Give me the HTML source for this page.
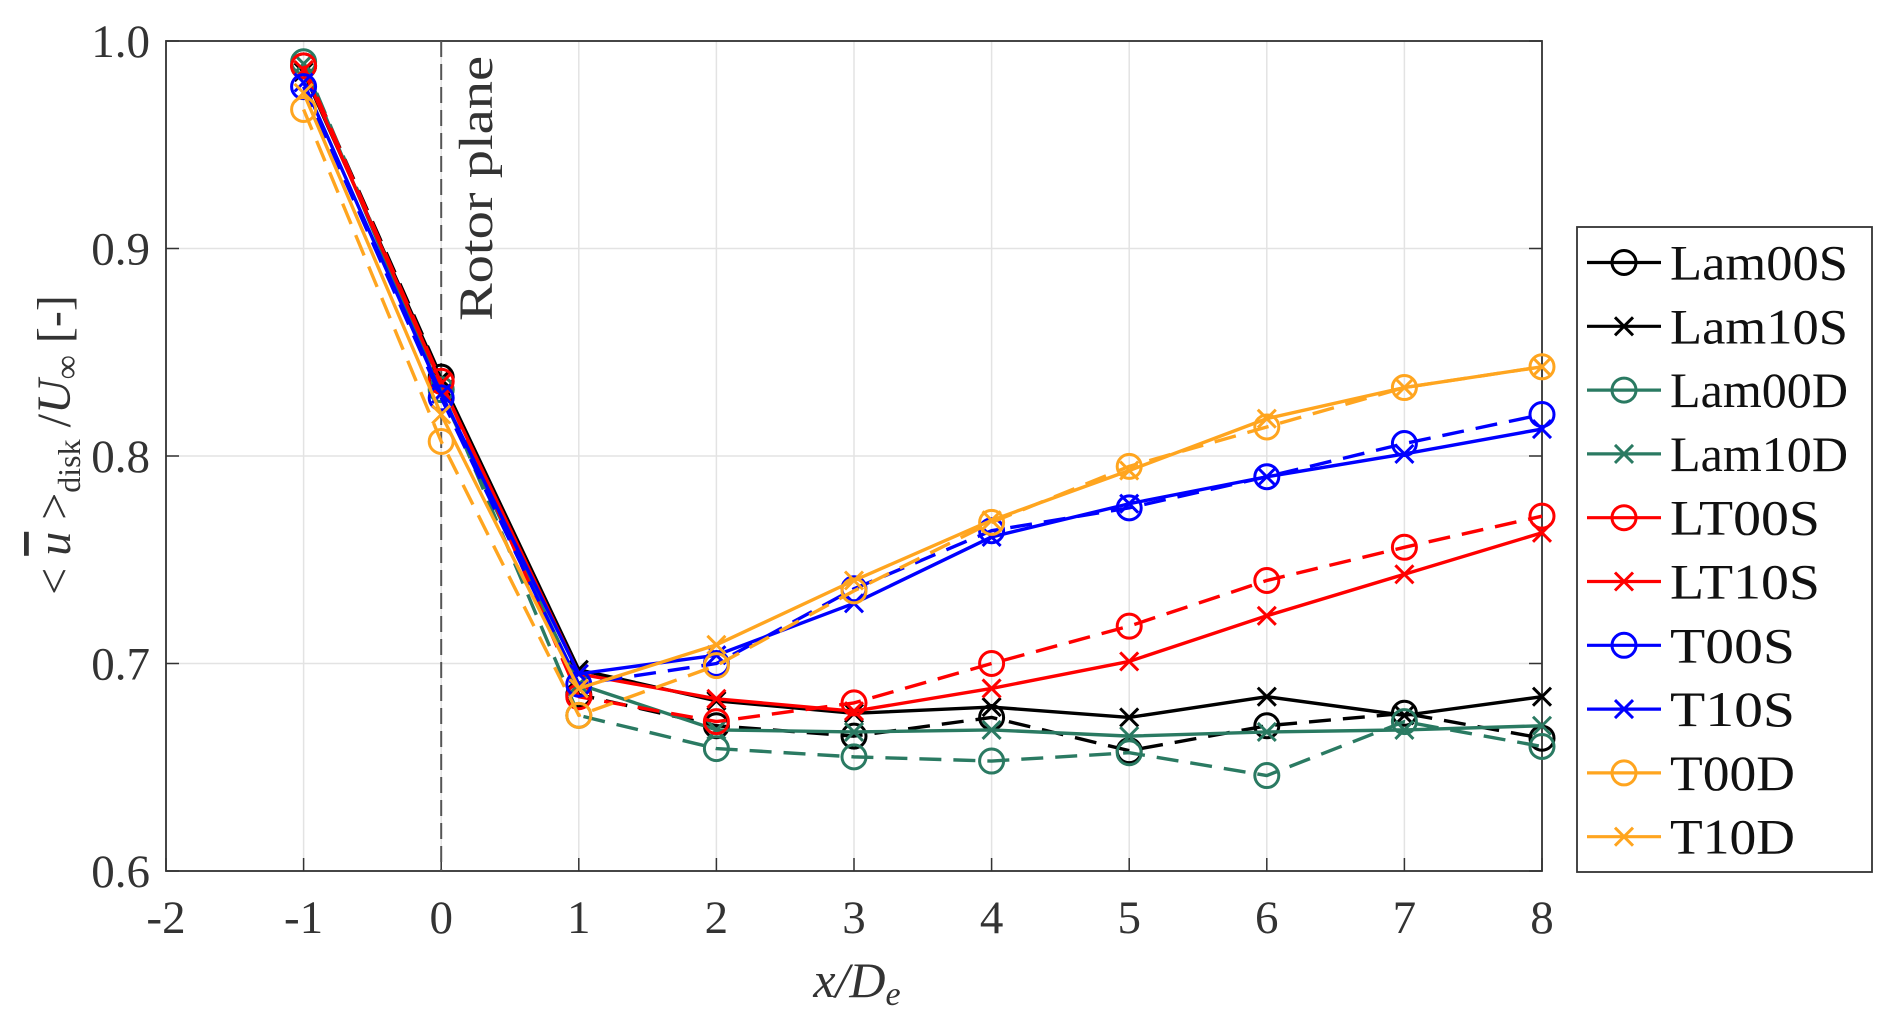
<!DOCTYPE html>
<html><head><meta charset="utf-8"><style>
html,body{margin:0;padding:0;background:#fff;}
svg{display:block;font-family:"Liberation Serif",serif;}
</style></head><body>
<svg id="chart" width="1892" height="1029" viewBox="0 0 1892 1029" xmlns="http://www.w3.org/2000/svg">
<rect x="0" y="0" width="1892" height="1029" fill="#fff"/>
<g id="grid"></g>
<g id="axes"></g>
<g id="series"></g>
<text x="0" y="0" transform="translate(492,321) rotate(-90)" font-size="48" fill="#333" textLength="265" lengthAdjust="spacingAndGlyphs">Rotor plane</text>
<text transform="translate(70,445) rotate(-90)" text-anchor="middle" font-size="48" fill="#333">&lt; <tspan font-style="italic" text-decoration="overline">u</tspan> &gt;<tspan font-size="32" dy="10">disk</tspan><tspan dy="-10"> /</tspan><tspan font-style="italic">U</tspan><tspan font-size="34" dy="8">∞</tspan><tspan dy="-8"> [-]</tspan></text>
<text x="857" y="997" text-anchor="middle" font-size="50" font-style="italic" fill="#333">x/D<tspan font-size="34" dy="8">e</tspan></text>
<g id="legend"></g>
</svg>
<script>
const xValues = [-1,0,1,2,3,4,5,6,7,8];
const seriesNames = ["Lam00S","Lam10S","Lam00D","Lam10D","LT00S","LT10S","T00S","T10S","T00D","T10D"];
const Lam00S = [0.988,0.838,0.685,0.670,0.665,0.674,0.658,0.670,0.676,0.664];
const Lam10S = [0.985,0.837,0.697,0.682,0.676,0.679,0.674,0.684,0.675,0.684];
const Lam00D = [0.990,0.832,0.675,0.659,0.655,0.653,0.657,0.646,0.672,0.660];
const Lam10D = [0.989,0.830,0.690,0.668,0.667,0.668,0.665,0.667,0.668,0.670];
const LT00S = [0.988,0.836,0.684,0.672,0.681,0.700,0.718,0.740,0.756,0.771];
const LT10S = [0.986,0.835,0.695,0.683,0.677,0.688,0.701,0.723,0.743,0.763];
const T00S = [0.978,0.828,0.690,0.700,0.736,0.764,0.775,0.790,0.806,0.820];
const T10S = [0.980,0.830,0.695,0.704,0.729,0.761,0.777,0.790,0.801,0.813];
const T00D = [0.967,0.807,0.675,0.699,0.735,0.768,0.795,0.814,0.833,0.843];
const T10D = [0.975,0.820,0.688,0.709,0.740,0.769,0.793,0.818,0.833,0.843];
const xTicks = [-2,-1,0,1,2,3,4,5,6,7,8];
const yTicks = [0.6,0.7,0.8,0.9,1.0];
const yTickLabels = ["0.6","0.7","0.8","0.9","1.0"];

const seriesData = [Lam00S,Lam10S,Lam00D,Lam10D,LT00S,LT10S,T00S,T10S,T00D,T10D];
const colors = ["#000","#000","#2a7a62","#2a7a62","#ff0000","#ff0000","#0000ff","#0000ff","#ffa51f","#ffa51f"];
const L=166,R=1542,T=41,B=871;
const sx = v => L + (v+2)/10*(R-L);
const sy = v => B - (v-0.6)/0.4*(B-T);
const NS="http://www.w3.org/2000/svg";
function mk(tag, attrs, parent){const e=document.createElementNS(NS,tag);for(const k in attrs)e.setAttribute(k,attrs[k]);parent.appendChild(e);return e;}
const grid=document.getElementById('grid'), axes=document.getElementById('axes'), ser=document.getElementById('series'), leg=document.getElementById('legend');
xTicks.forEach(t=>{
  const g=mk('line',{x1:sx(t),x2:sx(t),y1:T,y2:B,stroke:'#e3e3e3','stroke-width':1.5},grid);
  
  
  const tk=mk('line',{x1:sx(t),x2:sx(t),y1:B,y2:B-13,stroke:'#333','stroke-width':1.5},axes);
  
  
  const lb=mk('text',{x:sx(t),y:933,'text-anchor':'middle','font-size':47,fill:'#333'},axes);
  lb.textContent=String(t);
  
  
});
yTicks.forEach((t,i)=>{
  const g=mk('line',{x1:L,x2:R,y1:sy(t),y2:sy(t),stroke:'#e3e3e3','stroke-width':1.5},grid);
  
  
  const tk=mk('line',{x1:L,x2:L+13,y1:sy(t),y2:sy(t),stroke:'#333','stroke-width':1.5},axes);
  
  
  const tk2=mk('line',{x1:R,x2:R-13,y1:sy(t),y2:sy(t),stroke:'#333','stroke-width':1.5},axes);
  
  
  const lb=mk('text',{x:150,y:sy(t)+16,'text-anchor':'end','font-size':47,fill:'#333'},axes);
  lb.textContent=yTickLabels[i];
  
  
});
const frame=mk('rect',{x:L,y:T,width:R-L,height:B-T,fill:'none',stroke:'#333','stroke-width':1.8},axes);


const rp=mk('line',{x1:sx(0),x2:sx(0),y1:T,y2:B,stroke:'#555','stroke-width':2,'stroke-dasharray':'16,7'},axes);



function marker(kind,x,y,c,parent){
  let m;
  if(kind==='o'){ m=mk('circle',{cx:x,cy:y,r:12,fill:'none',stroke:c,'stroke-width':3},parent); }
  else { m=mk('path',{d:`M${x-9},${y-9}L${x+9},${y+9}M${x-9},${y+9}L${x+9},${y-9}`,stroke:c,'stroke-width':3,fill:'none'},parent); }
  return m;
}
seriesData.forEach((arr,si)=>{
  const g=mk('g',{},ser);
  
  
  const isDashed = si%2===0;
  const pts=arr.map((v,i)=>sx(xValues[i])+','+sy(v)).join(' ');
  const pl=mk('polyline',{points:pts,fill:'none',stroke:colors[si],'stroke-width':3.4,'stroke-linejoin':'round'},g);
  if(isDashed) pl.setAttribute('stroke-dasharray','22,12');
  
  
  arr.forEach((v,i)=>{
    const m=marker(isDashed?'o':'x',sx(xValues[i]),sy(v),colors[si],g);
    
    
  });
});
const lb=mk('rect',{x:1577,y:227,width:295,height:645,fill:'#fff',stroke:'#333','stroke-width':1.8},leg);


seriesNames.forEach((n,i)=>{
  const y=262.5+i*63.8;
  const g=mk('g',{},leg);
  
  
  mk('line',{x1:1587,x2:1661,y1:y,y2:y,stroke:colors[i],'stroke-width':3.2},g);
  marker(i%2===0?'o':'x',1624,y,colors[i],g);
  const t=mk('text',{x:1670,y:y+17,'font-size':50,fill:'#111',textLength:(n.length>=6?178:(n.length===5?150:125)),lengthAdjust:'spacingAndGlyphs'},g);
  t.textContent=n;
});
</script>
</body></html>
